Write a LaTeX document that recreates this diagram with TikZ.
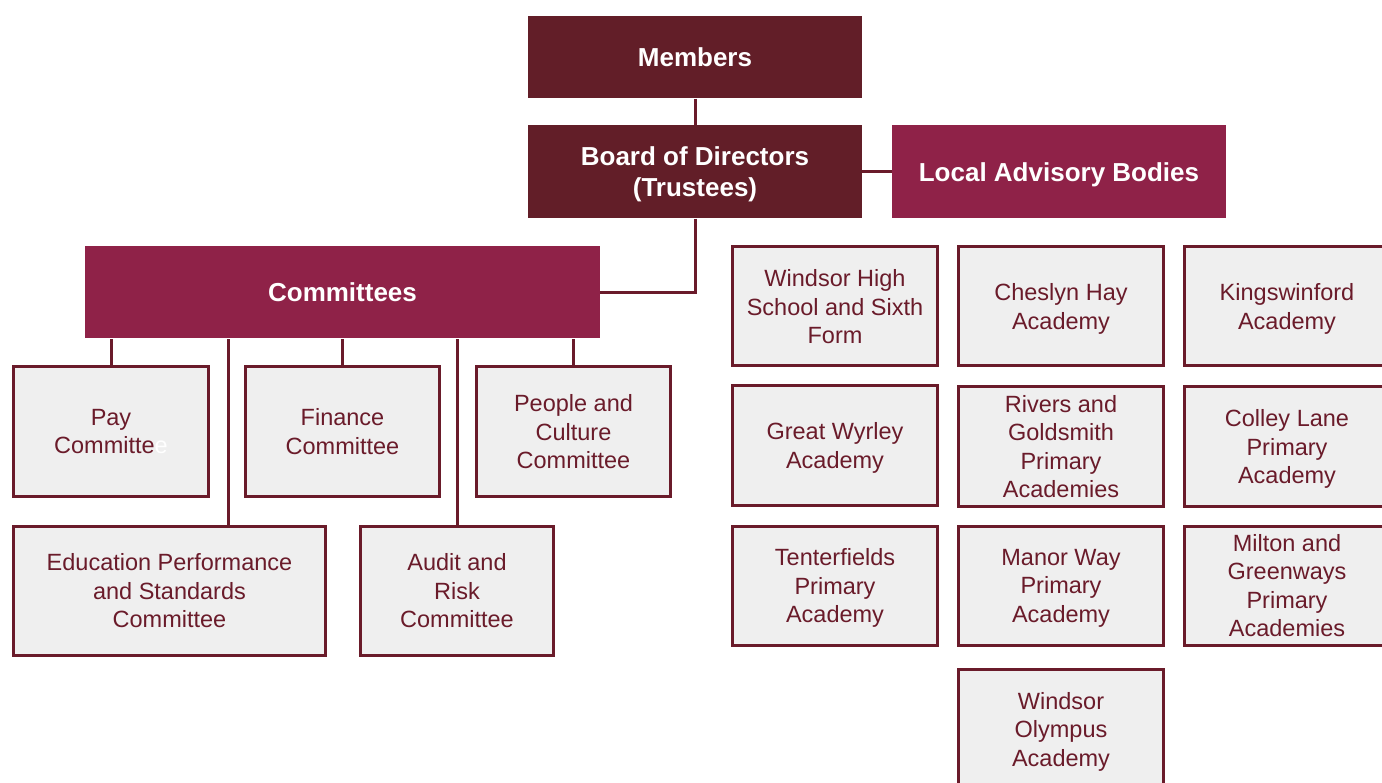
\documentclass[tikz,border=0pt]{standalone}
\usepackage{fontspec}
\setmainfont{Liberation Sans}
\definecolor{darkm}{HTML}{621E28}
\definecolor{midm}{HTML}{8F2248}
\definecolor{edgem}{HTML}{6A1B2A}
\definecolor{lightf}{HTML}{EFEFEF}
\begin{document}
\begin{tikzpicture}[x=1pt,y=-1pt,
  head/.style={fill=darkm, draw=none, text=white, font=\fontsize{26}{31}\selectfont\bfseries, align=center, inner sep=0pt, text depth=0pt},
  headb/.style={head, fill=midm},
  box/.style={fill=lightf, draw=edgem, line width=3pt, text=edgem, font=\fontsize{23.5}{28.5}\selectfont, align=center, inner sep=0pt, text depth=0pt},
  link/.style={draw=edgem, line width=3pt}
]
\useasboundingbox (0,0) rectangle (1382,783);
\clip (0,0) rectangle (1382,783);
% top level
\node[head, minimum width=334, minimum height=82] (mem) at (695,57.5) {Members};
\node[head, minimum width=334, minimum height=93] (board) at (695,172) {Board of Directors\\(Trustees)};
\node[headb, minimum width=334, minimum height=93] (lab) at (1059,172) {Local Advisory Bodies};
\node[headb, minimum width=515, minimum height=92] (comm) at (342.5,292.5) {Committees};
% committees
\node[box, minimum width=195, minimum height=129] (pay) at (111,431.5) {Pay\\Committe\textcolor{white}{e}};
\node[box, minimum width=194, minimum height=129] (fin) at (342.5,431.5) {Finance\\Committee};
\node[box, minimum width=194, minimum height=129] (ppl) at (573.5,431.5) {People and\\Culture\\Committee};
\node[box, minimum width=312, minimum height=129] (edu) at (169.5,590.5) {Education Performance\\and Standards\\Committee};
\node[box, minimum width=193, minimum height=129] (aud) at (457,590.5) {Audit and\\Risk\\Committee};
% academies
\node[box, minimum width=205, minimum height=119] (whs) at (835,306.5) {Windsor High\\School and Sixth\\Form};
\node[box, minimum width=205, minimum height=119] (chh) at (1061,306.5) {Cheslyn Hay\\Academy};
\node[box, minimum width=205, minimum height=119] (kgs) at (1287,306.5) {Kingswinford\\Academy};
\node[box, minimum width=205, minimum height=119] (gwa) at (835,445.5) {Great Wyrley\\Academy};
\node[box, minimum width=205, minimum height=119] (rgs) at (1061,446.5) {Rivers and\\Goldsmith\\Primary\\Academies};
\node[box, minimum width=205, minimum height=119] (clp) at (1287,446.5) {Colley Lane\\Primary\\Academy};
\node[box, minimum width=205, minimum height=119] (tpa) at (835,585.5) {Tenterfields\\Primary\\Academy};
\node[box, minimum width=205, minimum height=119] (mwp) at (1061,585.5) {Manor Way\\Primary\\Academy};
\node[box, minimum width=205, minimum height=119] (mgp) at (1287,585.5) {Milton and\\Greenways\\Primary\\Academies};
\node[box, minimum width=205, minimum height=120] (woa) at (1061,729) {Windsor\\Olympus\\Academy};
% connectors
\draw[link] (mem.south) -- (board.north);
\draw[link] (board.east) -- (lab.west);
\draw[link] (board.south) |- (comm.east);
\draw[link] (pay.north) -- (pay.north |- comm.south);
\draw[link] (fin.north) -- (fin.north |- comm.south);
\draw[link] (ppl.north) -- (ppl.north |- comm.south);
\draw[link] (aud.north) -- (aud.north |- comm.south);
\draw[link] ([xshift=58.5]edu.north) -- ([xshift=58.5]edu.north |- comm.south);
\end{tikzpicture}
\end{document}
